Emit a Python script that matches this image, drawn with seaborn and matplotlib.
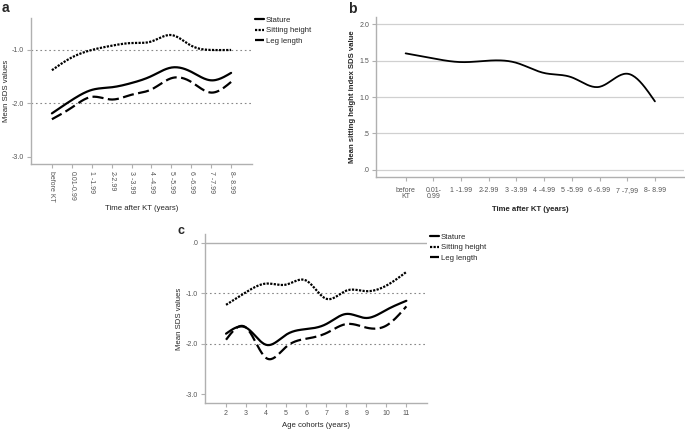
import numpy as np
import pandas as pd
import matplotlib
matplotlib.use("Agg")
import matplotlib.pyplot as plt
import seaborn as sns

# panel a / b: time after kidney transplantation
kt_labels_a = ["before KT", "0.01-0.99", "1 -1.99", "2-2.99", "3 -3.99", "4 -4.99",
               "5 -5.99", "6 -6.99", "7 -7.99", "8- 8.99"]
kt_labels_b = ["before\nKT", "0.01-\n0.99", "1 -1.99", "2-2.99", "3 -3.99", "4 -4.99",
               "5 -5.99", "6 -6.99", "7 -7,99", "8- 8.99"]
stature_a = [-2.19, -1.94, -1.75, -1.70, -1.62, -1.49, -1.33, -1.41, -1.57, -1.43]
sitting_a = [-1.38, -1.14, -1.00, -0.92, -0.87, -0.84, -0.72, -0.92, -1.00, -1.00]
leg_a = [-2.30, -2.08, -1.88, -1.93, -1.84, -1.74, -1.53, -1.60, -1.80, -1.60]
shi_b = [1.60, 1.53, 1.48, 1.50, 1.47, 1.33, 1.27, 1.14, 1.32, 0.94]

# panel c: age cohorts
ages_c = [2, 3, 4, 5, 6, 7, 8, 9, 10, 11]
stature_c = [-1.80, -1.68, -2.02, -1.82, -1.71, -1.61, -1.41, -1.49, -1.33, -1.15]
sitting_c = [-1.23, -0.98, -0.81, -0.83, -0.75, -1.11, -0.95, -0.96, -0.85, -0.58]
leg_c = [-1.92, -1.68, -2.28, -2.06, -1.90, -1.79, -1.61, -1.68, -1.64, -1.26]


def spline(x, y, n=200):
    # natural cubic spline, like the SPSS "spline" line interpolation
    x = np.asarray(x, float); y = np.asarray(y, float)
    k = len(x); h = np.diff(x)
    A = np.zeros((k, k)); r = np.zeros(k)
    A[0, 0] = A[-1, -1] = 1
    for i in range(1, k - 1):
        A[i, i - 1] = h[i - 1]; A[i, i] = 2 * (h[i - 1] + h[i]); A[i, i + 1] = h[i]
        r[i] = 6 * ((y[i + 1] - y[i]) / h[i] - (y[i] - y[i - 1]) / h[i - 1])
    m = np.linalg.solve(A, r)
    xs = np.linspace(x[0], x[-1], n)
    j = np.clip(np.searchsorted(x, xs) - 1, 0, k - 2)
    t = xs - x[j]; hj = h[j]
    ys = (m[j] * (x[j + 1] - xs) ** 3 / (6 * hj) + m[j + 1] * t ** 3 / (6 * hj)
          + (y[j] / hj - m[j] * hj / 6) * (x[j + 1] - xs)
          + (y[j + 1] / hj - m[j + 1] * hj / 6) * t)
    return pd.DataFrame({"x": xs, "y": ys})


sns.set_theme(style="white")
plt.rcParams["font.family"] = ["Liberation Sans", "DejaVu Sans"]
W, H = 685, 432
fig = plt.figure(figsize=(W / 100, H / 100), dpi=100)

def box(l, t, r, b):
    return [l / W, 1 - b / H, (r - l) / W, (b - t) / H]

gray = "#b0b0b0"
tickc = "#555555"
styles = {"Stature": dict(ls="-"), "Sitting height": dict(ls=(0, (1, 0.6))),
          "Leg length": dict(ls=(0, (5, 2)))}

def style_axes(ax):
    for s in ["top", "right"]:
        ax.spines[s].set_visible(False)
    for s in ["left", "bottom"]:
        ax.spines[s].set_color(gray); ax.spines[s].set_linewidth(1.0)
    ax.tick_params(axis="both", colors=gray, labelcolor=tickc, labelsize=5,
                   length=3, width=0.8, direction="out", left=True, bottom=True, pad=2)

def draw_series(ax, x, series):
    for name, vals in series.items():
        d = spline(x, vals)
        sns.lineplot(data=d, x="x", y="y", ax=ax, color="black", lw=1.6,
                     label=name, **styles[name])

def letter(x, y, s, size):
    fig.text(x / W, 1 - y / H, s, fontsize=size, fontweight="bold", va="baseline")

def place_labels(ax, l, t, r, b, xl_top, yl_right):
    # label positions given in figure pixels
    ax.xaxis.set_label_coords(0.5, -(xl_top - b) / (b - t), transform=ax.transAxes)
    ax.yaxis.set_label_coords((yl_right - l) / (r - l), 0.5, transform=ax.transAxes)

# ---- panel a
ax = fig.add_axes(box(31, 18, 252, 164))
style_axes(ax)
idx = np.arange(len(kt_labels_a))
for v in (-1, -2):
    ax.axhline(v, color="#888888", ls=(0, (1.5, 2.5)), lw=0.8, zorder=0)
draw_series(ax, idx, {"Stature": stature_a, "Sitting height": sitting_a, "Leg length": leg_a})
ax.set_xlim(-1.05, 10.05); ax.set_ylim(-3.14, -0.40)
ax.set_yticks([-3, -2, -1]); ax.set_yticklabels(["-3.0", "-2.0", "-1.0"])
ax.set_xticks(idx); ax.set_xticklabels(kt_labels_a, rotation=-90)
ax.set_xlabel("Time after KT (years)", fontsize=5.6)
ax.set_ylabel("Mean SDS values", fontsize=5.6)
place_labels(ax, 31, 18, 252, 164, 205, 10)
ax.legend(loc="upper left", bbox_to_anchor=(1.0, 1.03), frameon=False, fontsize=5.6,
          handlelength=1.1, handletextpad=0.3, labelspacing=0.35, borderaxespad=0)
letter(2, 12.5, "a", 10)

# ---- panel b
ax = fig.add_axes(box(376, 17, 684, 177))
style_axes(ax)
ax.tick_params(axis="x", pad=4)
for v in (0, 0.5, 1, 1.5, 2):
    ax.axhline(v, color="#d0d0d0", lw=0.9, zorder=0)
sns.lineplot(data=spline(idx, shi_b), x="x", y="y", ax=ax, color="black", lw=1.3)
ax.set_xlim(-1.07, 10.05); ax.set_ylim(-0.1, 2.1)
ax.set_yticks([0, 0.5, 1, 1.5, 2]); ax.set_yticklabels([".0", ".5", "1.0", "1.5", "2.0"])
ax.set_xticks(idx); ax.set_xticklabels(kt_labels_b, linespacing=0.9)
ax.set_xlabel("Time after KT (years)", fontsize=5.6, fontweight="bold")
ax.set_ylabel("Mean sitting height index SDS value", fontsize=5.6, fontweight="bold")
place_labels(ax, 376, 17, 684, 177, 206, 356)
letter(348, 13, "b", 10)

# ---- panel c
ax = fig.add_axes(box(205, 234, 427, 403))
style_axes(ax)
ax.axhline(0, color=gray, lw=1.0, zorder=0)
for v in (-1, -2):
    ax.axhline(v, color="#888888", ls=(0, (1.5, 2.5)), lw=0.8, zorder=0)
draw_series(ax, ages_c, {"Stature": stature_c, "Sitting height": sitting_c, "Leg length": leg_c})
ax.set_xlim(0.95, 12.03); ax.set_ylim(-3.17, 0.17)
ax.set_yticks([-3, -2, -1, 0]); ax.set_yticklabels(["-3.0", "-2.0", "-1.0", ".0"])
ax.set_xticks(ages_c)
ax.set_xlabel("Age cohorts (years)", fontsize=5.6)
ax.set_ylabel("Mean SDS values", fontsize=5.6)
place_labels(ax, 205, 234, 427, 403, 422, 183)
ax.legend(loc="upper left", bbox_to_anchor=(1.0, 1.02), frameon=False, fontsize=5.6,
          handlelength=1.1, handletextpad=0.3, labelspacing=0.35, borderaxespad=0)
letter(177, 234, "c", 9)

fig.savefig("out.png", dpi=100, facecolor="white")
